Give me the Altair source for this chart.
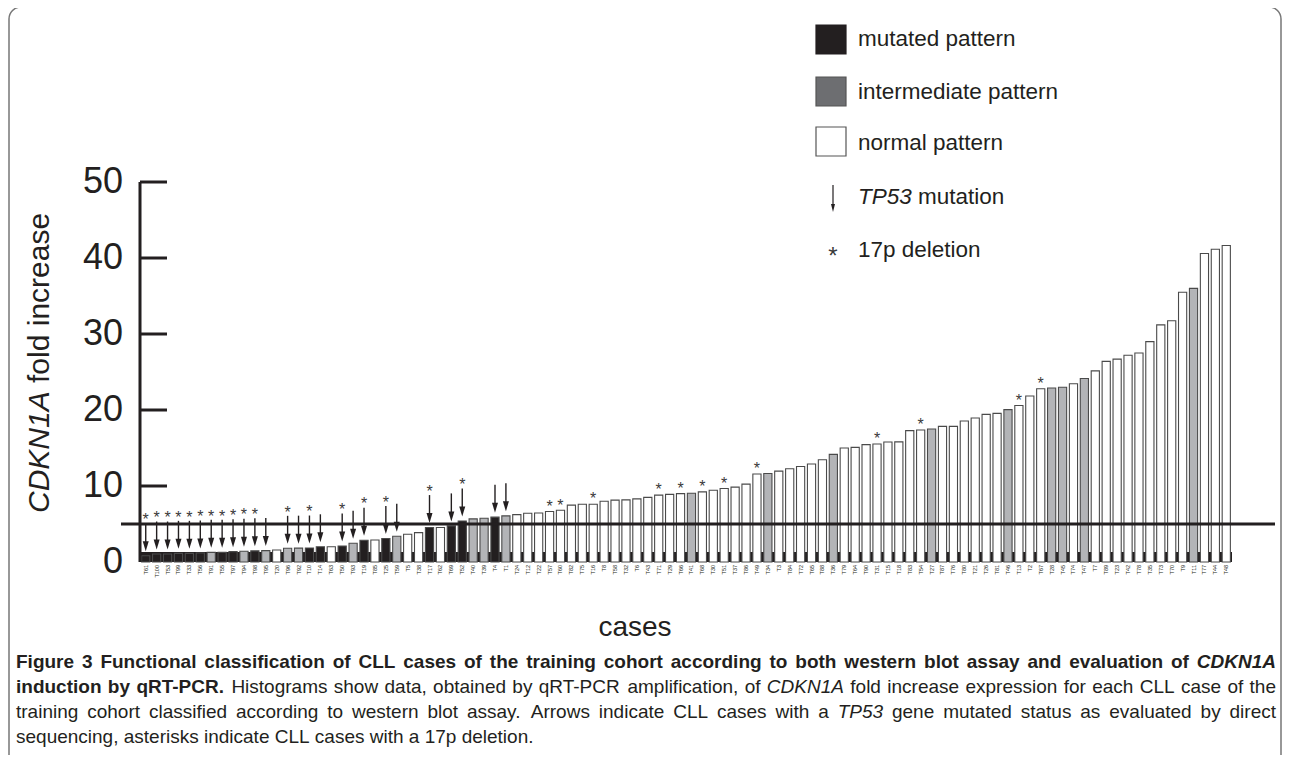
import altair as alt
import pandas as pd

# ---------------- data ----------------
cases = ["T61","T100","T53","T99","T33","T56","T91","T55","T97","T94","T98","T95","T20","T96","T92",
         "T10","T14","T63","T50","T93","T19","T85","T25","T59","T5","T38","T17","T62","T69","T52",
         "T40","T39","T4","T1","T24","T12","T22","T57","T60","T82","T75","T16","T8","T58","T32",
         "T6","T43","T71","T29","T66","T41","T68","T30","T51","T37","T86","T49","T34","T3","T84",
         "T72","T65","T88","T36","T79","T64","T90","T31","T15","T18","T83","T54","T27","T87","T76",
         "T80","T21","T26","T81","T46","T13","T2","T67","T28","T45","T74","T47","T7","T89","T23",
         "T42","T78","T35","T73","T70","T9","T11","T77","T44","T48"]
fold = [0.83,1.05,1.05,1.14,1.14,1.18,1.27,1.27,1.36,1.42,1.47,1.5,1.58,1.8,1.82,
        1.84,2.0,2.0,2.1,2.46,2.86,2.9,3.1,3.38,3.65,3.87,4.53,4.53,4.75,5.4,
        5.67,5.76,5.9,6.07,6.24,6.42,6.45,6.64,6.8,7.48,7.6,7.6,8.0,8.14,8.18,
        8.3,8.5,8.8,8.9,9.0,9.05,9.23,9.45,9.67,9.85,10.25,11.57,11.65,11.96,12.27,
        12.57,12.9,13.46,14.16,15.0,15.08,15.44,15.52,15.78,15.8,17.28,17.37,17.5,17.85,17.85,
        18.56,18.95,19.43,19.56,20.05,20.6,21.85,22.8,22.9,23.0,23.45,24.15,25.15,26.4,26.7,
        27.2,27.5,29.0,31.2,31.75,35.5,36.0,40.6,41.15,41.65]
mutated = ["T61","T100","T53","T99","T33","T56","T55","T97","T98","T10","T14","T50","T19",
           "T25","T17","T69","T52","T4"]
intermediate = ["T91","T94","T95","T96","T92","T93","T59","T40","T39","T1","T41","T34","T36",
                "T27","T46","T28","T45","T47","T11"]
tp53 = ["T61","T100","T53","T99","T33","T56","T91","T55","T97","T94","T98","T95","T96","T92",
        "T10","T14","T50","T93","T19","T25","T59","T17","T69","T52","T4","T1"]
del17p = ["T61","T100","T53","T99","T33","T56","T91","T55","T97","T94","T98","T96","T10","T50",
          "T19","T25","T17","T52","T57","T60","T16","T71","T66","T68","T51","T49","T31","T54",
          "T13","T67"]
threshold = [5]
base_band = [1.3]
y_label_values = [0, 10, 20, 30, 40, 50]
y_label_text = ["0", "10", "20", "30", "40", "50"]
y_ticks = [10, 20, 30, 40, 50]
pattern_names = ["mutated pattern", "intermediate pattern", "normal pattern"]

caption_lines = [
    [("Figure 3 Functional classification of CLL cases of the training cohort according to both western blot assay and evaluation of", "b"),
     ("CDKN1A", "bi")],
    [("induction by qRT-PCR.", "b"),
     ("Histograms show data, obtained by qRT-PCR amplification, of", "r"),
     ("CDKN1A", "i"),
     ("fold increase expression for each CLL case of the", "r")],
    [("training cohort classified according to western blot assay. Arrows indicate CLL cases with a", "r"),
     ("TP53", "i"),
     ("gene mutated status as evaluated by direct", "r")],
    [("sequencing, asterisks indicate CLL cases with a 17p deletion.", "r")],
]

# ---------------- style / layout ----------------
INK = "#231f20"
FONT = "Liberation Sans"
W, H = 1092, 380
PL, PT = 132, 174
OX, OY = 8 + PL, 8 + PT


def px(X):
    return X - OX


def py(Y):
    return Y - OY


REG = dict(zip("abcdefghijklmnopqrstuvwxyz",
               [556,556,500,556,556,278,556,556,222,222,500,222,833,556,556,556,556,333,500,278,556,500,722,500,500,500]))
REG.update(dict(zip("ABCDEFGHIJKLMNOPQRSTUVWXYZ",
                    [667,667,722,722,667,611,778,722,278,500,667,556,833,722,778,667,778,722,667,611,722,667,944,667,667,611])))
BOLD = dict(zip("abcdefghijklmnopqrstuvwxyz",
                [556,611,556,611,556,333,611,611,278,278,556,278,889,611,611,611,611,389,556,333,611,556,778,556,556,500]))
BOLD.update(dict(zip("ABCDEFGHIJKLMNOPQRSTUVWXYZ",
                     [722,722,722,722,667,611,778,722,278,556,722,611,833,722,778,667,778,722,667,611,722,667,944,667,667,611])))
for t in (REG, BOLD):
    for d in "0123456789":
        t[d] = 556
    t[" "] = 278; t[","] = 278; t["."] = 278; t["-"] = 333


def tw(s, size, bold=False):
    tab = BOLD if bold else REG
    return sum(tab.get(c, 556) for c in s) * size / 1000.0


df = pd.DataFrame({"case": cases, "value": fold})
df["pattern"] = ["mutated pattern" if c in mutated else
                 "intermediate pattern" if c in intermediate else "normal pattern" for c in cases]
df["tp53"] = [c in tp53 for c in cases]
df["del"] = [c in del17p for c in cases]

xscale = alt.Scale(domain=cases, paddingInner=0.25, paddingOuter=0.15)
yscale = alt.Scale(domain=[0, 50], nice=False)
X = alt.X("case:N", scale=xscale, axis=None)
Y = alt.Y("value:Q", scale=yscale, axis=None)

one = pd.DataFrame({"a": [0]})

frame = alt.Chart(one).mark_rect(fill="#ffffff", fillOpacity=0, stroke="#777777", strokeWidth=1.5,
                                 cornerRadius=12).encode(
    x=alt.value(px(9)), x2=alt.value(px(1281)), y=alt.value(py(7)), y2=alt.value(py(820)))

band = alt.Chart(pd.DataFrame({"value": base_band})).mark_rect(color=INK).encode(
    y=Y, y2=alt.value(H), x=alt.value(0), x2=alt.value(W))

bars = alt.Chart(df).mark_bar(stroke="#4a4a4a", strokeWidth=1.1).encode(
    x=X, y=Y,
    color=alt.Color("pattern:N", scale=alt.Scale(domain=pattern_names,
                                                 range=[INK, "#b3b4b7", "#ffffff"]), legend=None))

# hand-drawn axes
y_domain = alt.Chart(one).mark_rule(color=INK, strokeWidth=3).encode(
    x=alt.value(0), y=alt.value(0), y2=alt.value(H))
ticks = alt.Chart(pd.DataFrame({"value": y_ticks})).mark_rule(color=INK, strokeWidth=3).encode(
    y=Y, x=alt.value(0), x2=alt.value(27))
y_lab = alt.Chart(pd.DataFrame({"value": y_label_values, "lab": y_label_text})).mark_text(
    align="right", baseline="middle", fontSize=36, font=FONT, color=INK).encode(
    y=Y, x=alt.value(-17), text="lab:N")
x_lab = alt.Chart(df).mark_text(
    angle=270, align="right", baseline="middle", fontSize=5.5, font=FONT, color=INK).encode(
    x=X, y=alt.value(H + 3), text="case:N")

thr = alt.Chart(pd.DataFrame({"value": threshold})).mark_rule(color=INK, strokeWidth=2.8).encode(
    y=Y, x=alt.value(px(121)), x2=alt.value(px(1275)))

arr = df[df["tp53"]]
shafts = alt.Chart(arr).mark_rule(color=INK, strokeWidth=1.4, yOffset=-12, y2Offset=-32.5).encode(
    x=X, y=Y, y2=alt.Y2("value:Q"))
ARROW = "M-0.6,-2L0.6,-2L0,0Z"
heads = alt.Chart(arr).mark_point(shape=ARROW, filled=True, size=100, color=INK, opacity=1,
                                  yOffset=-4.5).encode(x=X, y=Y)

AST = "#3a3a3a"
ast_a = alt.Chart(df[df["del"] & df["tp53"]]).mark_text(
    text="*", fontSize=16, font=FONT, color=AST, baseline="alphabetic", yOffset=-30.8).encode(
    x=X, y=Y)
ast_b = alt.Chart(df[df["del"] & ~df["tp53"]]).mark_text(
    text="*", fontSize=16, font=FONT, color=AST, baseline="alphabetic", yOffset=0.2).encode(
    x=X, y=Y)


def txt(s, Xp, Yp, size, align="left", angle=0, weight="normal", style="normal", color=INK):
    return alt.Chart(pd.DataFrame({"s": [s]})).mark_text(
        align=align, baseline="middle", angle=angle, fontSize=size, font=FONT,
        fontWeight=weight, fontStyle=style, color=color).encode(
        x=alt.value(px(Xp)), y=alt.value(py(Yp)), text="s:N")


texts = []
texts.append(txt("CDKN1A", 40, 513, 30, angle=270, style="italic"))
texts.append(txt("fold increase", 40, 513 - tw("CDKN1A ", 30), 30, angle=270))
texts.append(txt("cases", 635, 628, 28, align="center"))

# legend
LS = 22.5
sq = [(25, INK, INK), (77, "#6d6e71", "#555555"), (127, "#ffffff", "#555555")]
legend = []
for (top, fillc, strokec) in sq:
    legend.append(alt.Chart(one).mark_rect(fill=fillc, stroke=strokec, strokeWidth=1.2).encode(
        x=alt.value(px(816)), x2=alt.value(px(846)), y=alt.value(py(top)), y2=alt.value(py(top + 29))))
for name, cy in zip(pattern_names, [39, 92, 143]):
    legend.append(txt(name, 858, cy, LS))
legend.append(alt.Chart(one).mark_rule(color=INK, strokeWidth=1.2).encode(
    x=alt.value(px(833)), y=alt.value(py(185)), y2=alt.value(py(206))))
legend.append(alt.Chart(one).mark_point(shape="M-0.5,-2L0.5,-2L0,0Z", filled=True, size=64, color=INK,
                                        opacity=1).encode(x=alt.value(px(833)), y=alt.value(py(212))))
legend.append(txt("TP53", 858, 197, LS, style="italic"))
legend.append(txt("mutation", 858 + tw("TP53 ", LS), 197, LS))
legend.append(alt.Chart(pd.DataFrame({"s": ["*"]})).mark_text(
    fontSize=24, font=FONT, color=AST, baseline="alphabetic", align="center").encode(
    x=alt.value(px(833)), y=alt.value(py(250 + 0.575 * 24)), text="s:N"))
legend.append(txt("17p deletion", 858, 250, LS))

# caption, word by word, justified
CAP = 19
X0, X1 = 16, 1276
line_y = [662, 687, 712, 737]
STY = {"r": ("normal", "normal"), "b": ("bold", "normal"), "i": ("normal", "italic"), "bi": ("bold", "italic")}
caps = []
for li, line in enumerate(caption_lines):
    words = [(w, st) for seg, st in line for w in seg.split()]
    widths = [tw(w, CAP, "b" in st) for w, st in words]
    if li < 3:
        gap = (X1 - X0 - sum(widths)) / (len(words) - 1)
    else:
        gap = tw(" ", CAP)
    xx = X0
    for (w, st), wd in zip(words, widths):
        weight, style = STY[st]
        caps.append(txt(w, xx, line_y[li], CAP, weight=weight, style=style))
        xx += wd + gap

chart = alt.layer(frame, band, bars, thr, y_domain, ticks, y_lab, x_lab, shafts, heads, ast_a, ast_b,
                  *texts, *legend, *caps).properties(
    width=W, height=H,
    padding={"left": PL, "top": PT, "right": 1274 - PL - W, "bottom": 747 - PT - H},
    autosize=alt.AutoSizeParams(type="none"),
).configure_view(strokeWidth=0)

chart.save("out.html", embed_options={"renderer": "svg", "actions": False})
